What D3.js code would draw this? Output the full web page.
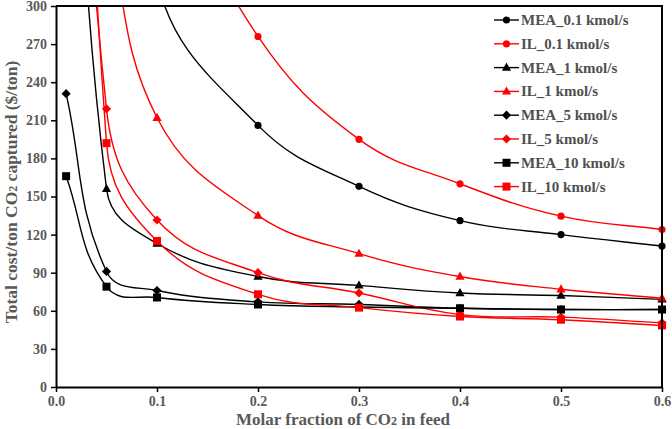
<!DOCTYPE html>
<html><head><meta charset="utf-8">
<script src="https://cdn.jsdelivr.net/npm/d3@7"></script>
<style>body{margin:0;background:#fff}svg{display:block}</style>
</head><body>
<svg id="c" width="672" height="429"></svg>
<script>
// x positions (molar fraction of CO2 in feed)
const xs = [0.01, 0.05, 0.1, 0.2, 0.3, 0.4, 0.5, 0.6];
// values ($/ton); points above 300 lie off the chart and are clipped
const mea01 = [null, 700, 320, 206, 158, 131, 120, 111];
const il01  = [null, null, 430, 276, 195, 160, 134.5, 124];
const mea1  = [700, 156, 113, 87, 80, 74, 72, 69];
const il1   = [null, 370, 212, 135, 105, 87, 77, 70];
const mea5  = [231, 91, 76, 67, 65, 62, 61, 61];
const il5   = [800, 219, 131.5, 90, 74, 57, 55, 50.5];
const mea10 = [166, 79, 70.5, 65, 63, 62, 61, 61];
const il10  = [1100, 192, 115, 73, 62.5, 55.5, 53, 48.5];
const seriesNames = ["MEA_0.1 kmol/s","IL_0.1 kmol/s","MEA_1 kmol/s","IL_1 kmol/s","MEA_5 kmol/s","IL_5 kmol/s","MEA_10 kmol/s","IL_10 kmol/s"];
const seriesValues = [mea01, il01, mea1, il1, mea5, il5, mea10, il10];
const seriesColors = ["#000","#ff0000","#000","#ff0000","#000","#ff0000","#000","#ff0000"];
const seriesMarkers = ["circle","circle","triangle","triangle","diamond","diamond","square","square"];
const xTicks = [0, 0.1, 0.2, 0.3, 0.4, 0.5, 0.6];
const yTicks = [0, 30, 60, 90, 120, 150, 180, 210, 240, 270, 300];

// spreadsheet-style smoothed line: tangent along neighbour chord, handle length ∝ segment length
function SmoothCurve(ctx){ this._context = ctx; }
SmoothCurve.prototype = {
  areaStart(){}, areaEnd(){},
  lineStart(){ this._p = []; },
  point(x, y){ this._p.push([+x, +y]); },
  lineEnd(){
    const p = this._p, n = p.length, c = this._context;
    if (!n) return;
    c.moveTo(p[0][0], p[0][1]);
    if (n === 1) return;
    const unit = (a, b) => { const dx = b[0]-a[0], dy = b[1]-a[1], l = Math.hypot(dx, dy) || 1; return [dx/l, dy/l]; };
    const t = p.map((_, i) => i === 0 ? unit(p[0], p[1]) : i === n-1 ? unit(p[n-2], p[n-1]) : unit(p[i-1], p[i+1]));
    const s = 0.4;
    for (let i = 0; i < n-1; i++){
      const a = p[i], b = p[i+1], L = Math.hypot(b[0]-a[0], b[1]-a[1]);
      c.bezierCurveTo(a[0]+t[i][0]*L*s, a[1]+t[i][1]*L*s, b[0]-t[i+1][0]*L*s, b[1]-t[i+1][1]*L*s, b[0], b[1]);
    }
  }
};
const curveSmooth = ctx => new SmoothCurve(ctx);

const svg = d3.select("#c");
const L = 56, R = 662, T = 6, B = 387;
const x = d3.scaleLinear().domain([0, 0.6]).range([L, R]);
const y = d3.scaleLinear().domain([0, 300]).range([B, T]);
const font = "'Liberation Serif','Times New Roman',serif";
const textCol = "#595959";

svg.append("defs").append("clipPath").attr("id","clip")
  .append("rect").attr("x",L).attr("y",T).attr("width",R-L).attr("height",B-T);

function markerPath(type){
  if(type==="circle") return d3.symbol().type(d3.symbolCircle).size(Math.PI*3.6*3.6)();
  if(type==="triangle") return "M0,-5L4.6,3.2L-4.6,3.2Z";
  if(type==="diamond") return "M0,-4.6L4.6,0L0,4.6L-4.6,0Z";
  if(type==="square") return "M-4,-4H4V4H-4Z";
}

// series
const line = d3.line().x(d=>x(d[0])).y(d=>y(d[1])).curve(curveSmooth);
const gLines = svg.append("g").attr("clip-path","url(#clip)");
const gMarks = svg.append("g");
seriesValues.forEach((vals,i)=>{
  const pts = xs.map((xv,j)=>[xv, vals[j]]).filter(d=>d[1]!=null);
  gLines.append("path").attr("d", line(pts)).attr("fill","none")
    .attr("stroke", seriesColors[i]).attr("stroke-width",1.4);
  gMarks.selectAll(null).data(pts.filter(d=>d[1]<=300)).join("path")
    .attr("d", markerPath(seriesMarkers[i]))
    .attr("transform", d=>`translate(${x(d[0])},${y(d[1])})`)
    .attr("fill", seriesColors[i]);
});

// axes
const xAxis = d3.axisBottom(x).tickValues(xTicks).tickFormat(d3.format(".1f")).tickSize(5).tickSizeOuter(0);
const yAxis = d3.axisLeft(y).tickValues(yTicks).tickSize(5).tickSizeOuter(0);
const gx = svg.append("g").attr("transform",`translate(0,${B})`).call(xAxis);
const gy = svg.append("g").attr("transform",`translate(${L},0)`).call(yAxis);
[gx,gy].forEach(g=>{
  g.select(".domain").attr("stroke","#000").attr("stroke-width",2);
  g.selectAll(".tick line").attr("stroke","#000").attr("stroke-width",1.5);
  g.selectAll(".tick text").attr("font-family",font).attr("font-weight","bold")
    .attr("font-size",14).attr("fill",textCol);
});
gx.selectAll(".tick text").attr("y",19).attr("dy",0);
gy.selectAll(".tick text").attr("x",-9);
// frame top & right
svg.append("path").attr("d",`M${L},${T}H${R}V${B}`).attr("fill","none")
  .attr("stroke","#000").attr("stroke-width",2);

// axis titles
const xt = svg.append("text").attr("x",343).attr("y",425).attr("text-anchor","middle")
  .attr("font-family",font).attr("font-weight","bold").attr("font-size",17).attr("fill",textCol);
xt.append("tspan").text("Molar fraction of CO");
xt.append("tspan").attr("font-size",12).text("2");
xt.append("tspan").text(" in feed");

const yt = svg.append("text").attr("transform","translate(17,192) rotate(-90)").attr("text-anchor","middle")
  .attr("font-family",font).attr("font-weight","bold").attr("font-size",17.5).attr("fill",textCol);
yt.append("tspan").text("Total cost/ton CO");
yt.append("tspan").attr("font-size",12).text("2");
yt.append("tspan").text(" captured ($/ton)");

// legend
const lg = svg.append("g");
seriesNames.forEach((name,i)=>{
  const cy = 20 + i*23.8;
  lg.append("line").attr("x1",494).attr("x2",519).attr("y1",cy).attr("y2",cy)
    .attr("stroke",seriesColors[i]).attr("stroke-width",1.4);
  lg.append("path").attr("d",markerPath(seriesMarkers[i])).attr("transform",`translate(506.5,${cy})`)
    .attr("fill",seriesColors[i]);
  lg.append("text").attr("x",521).attr("y",cy+5).text(name)
    .attr("font-family",font).attr("font-weight","bold").attr("font-size",15).attr("fill","#505050");
});
</script>
</body></html>
